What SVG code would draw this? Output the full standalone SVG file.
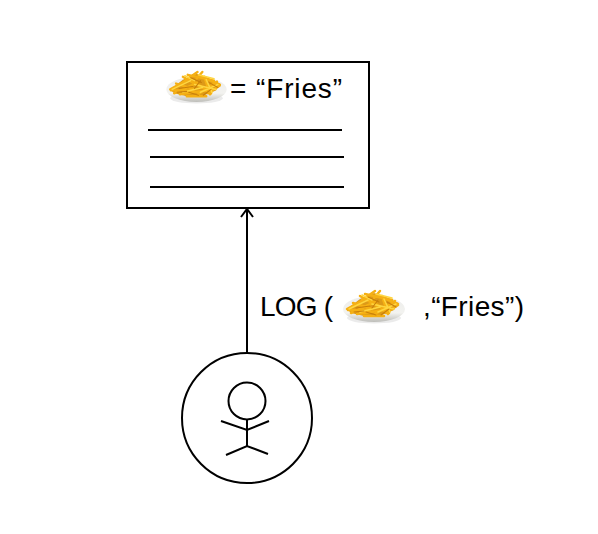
<svg xmlns="http://www.w3.org/2000/svg" width="598" height="534" viewBox="0 0 598 534">
<style>
.ln{fill:none;stroke:#000;stroke-width:2}
.t{font-family:"Liberation Sans",Arial,sans-serif;font-size:28px;fill:#000}
.f1{stroke:#f5b014;stroke-width:2.500;stroke-linecap:round;fill:none}
.f2{stroke:#c97f0a;stroke-width:1.100;stroke-linecap:round;fill:none}
.f3{stroke:#ffd640;stroke-width:1.600;stroke-linecap:round;fill:none}
</style>
<defs>
<linearGradient id="plate" x1="0" y1="0" x2="0" y2="1">
<stop offset="0" stop-color="#ececea"/><stop offset=".65" stop-color="#f3f3f0"/><stop offset="1" stop-color="#bdbdb8"/>
</linearGradient>
<symbol id="fries" viewBox="0 0 64 36" overflow="visible">
<ellipse cx="32" cy="30" rx="27" ry="5.500" fill="#000" opacity=".08"/>
<ellipse cx="32" cy="21" rx="31" ry="13" fill="url(#plate)"/>
<path d="M5 21L18 11L32 5L44 9L56 15L52 22L40 27L22 28L9 25Z" fill="#dd9a18"/>
<path class="f1" d="M5 21L25 10M9 25L33 14M18 8L35 18M23 6L50 12M33 3L20 12M35 7L56 16M28 12L47 25M15 26L50 21M40 8L46 26M53 13L32 27M11 15L30 21M38 3L32 10M22 28L42 28M56 17L44 25M6 22L28 22"/>
<path class="f3" d="M7 21L26 12M20 7L30 12M34 6L50 10M30 16L52 21M42 11L48 24M18 24L38 19M36 24L54 16"/>
<path class="f2" d="M14 20L28 18M26 9L37 14M45 14L54 19M24 24L34 27M36 12L30 20M47 21L39 27M12 24L22 23"/>
</symbol>
<marker id="arr" markerUnits="userSpaceOnUse" markerWidth="16" markerHeight="12" refX="7" refY="1" orient="0" overflow="visible">
<path d="M1 9L7 1L13 9" fill="none" stroke="#000" stroke-width="2"/>
</marker>
</defs>
<g id="connectors">
<path class="ln" d="M247 353V209" marker-end="url(#arr)"/>
</g>
<g id="log">
<rect class="ln" x="127" y="62" width="242" height="146"/>
<use href="#fries" x="165" y="69" width="63" height="35"/>
<text class="t" x="230" y="98">=</text>
<text class="t" x="256" y="98" textLength="86" lengthAdjust="spacing">“Fries”</text>
<path class="ln" d="M148 130H342M150 157H344M150 187H344"/>
</g>
<g id="label">
<text class="t" x="260" y="316" textLength="73" lengthAdjust="spacing">LOG (</text>
<use href="#fries" x="342" y="288" width="64" height="36"/>
<text class="t" x="423" y="316" textLength="101" lengthAdjust="spacing">,“Fries”)</text>
</g>
<g id="user">
<circle class="ln" cx="247" cy="418" r="65"/>
<circle class="ln" cx="247" cy="401" r="18.500"/>
<path class="ln" d="M247 419.500V446M221 421L247 430L269 421M226 455L247 446L268 454"/>
</g>
</svg>
